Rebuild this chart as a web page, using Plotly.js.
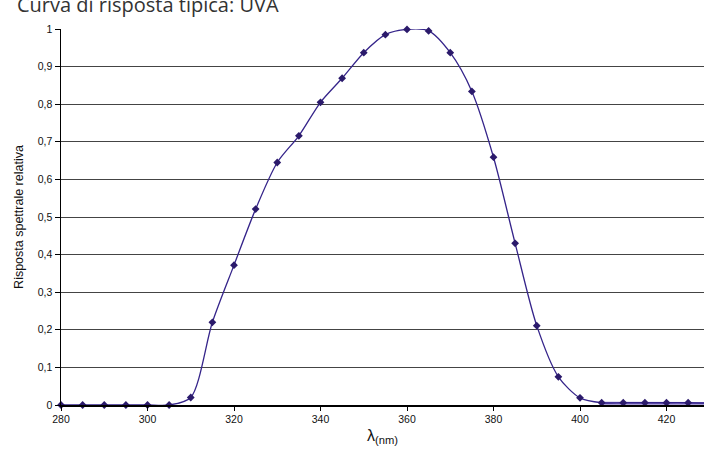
<!DOCTYPE html>
<html>
<head>
<meta charset="utf-8">
<script src="https://cdn.plot.ly/plotly-3.0.1.min.js"></script>
<style>html,body{margin:0;padding:0;background:#fff;}#chart{width:704px;height:449px;}</style>
</head>
<body>
<div id="chart"></div>
<script>
const wavelengths = [280,285,290,295,300,305,310,315,320,325,330,335,340,345,350,355,360,365,370,375,380,385,390,395,400,405,410,415,420,425,430];
const response    = [0,0,0,0,0,0,0.02,0.22,0.372,0.521,0.645,0.716,0.805,0.869,0.937,0.985,0.999,0.995,0.937,0.834,0.659,0.43,0.211,0.075,0.019,0.006,0.006,0.006,0.006,0.006,0.005];
const yTickVals = [0,0.1,0.2,0.3,0.4,0.5,0.6,0.7,0.8,0.9,1];
const xTickVals = [280,300,320,340,360,380,400,420];
const titleText = 'Curva di risposta tipica: UVA';
const yTitle = 'Risposta spettrale relativa';
const xTitle = 'λ<sub>(nm)</sub>';

const tailStart = wavelengths.indexOf(405);
const tailX = wavelengths.slice(tailStart);
const tailY = response.slice(tailStart);

const traces = [
  {
    x: tailX, y: tailY, type: 'scatter', mode: 'lines',
    fill: 'tozeroy', fillcolor: 'rgba(110,90,185,0.6)',
    line: {color: 'rgba(110,90,185,0.8)', width: 2},
    hoverinfo: 'skip', cliponaxis: true
  },
  {
    x: wavelengths, y: response, type: 'scatter', mode: 'lines+markers',
    line: {color: '#35248a', width: 1.3, shape: 'spline', smoothing: 0.8},
    marker: {symbol: 'diamond', size: 6, color: '#2b1a6b'},
    cliponaxis: false
  }
];

const layout = {
  width: 704, height: 449,
  margin: {l: 61, r: 0, t: 29, b: 44, pad: 0},
  paper_bgcolor: '#fff', plot_bgcolor: '#fff',
  showlegend: false,
  separators: ',.',
  font: {family: 'Liberation Sans, Arial, sans-serif', size: 10, color: '#111'},
  title: {
    text: titleText,
    x: 17/704, xanchor: 'left', xref: 'container',
    y: 1 - 5/449, yanchor: 'middle', yref: 'container',
    font: {family: 'Open Sans, sans-serif', size: 20, color: '#333'}
  },
  xaxis: {
    range: [280, 280 + 643/4.325],
    tickvals: xTickVals,
    ticks: 'outside', ticklen: 4, tickcolor: '#000', tickwidth: 1,
    showgrid: false, zeroline: false,
    showline: true, linecolor: '#000', linewidth: 1.5,
    tickfont: {size: 10.5},
    title: {text: xTitle, font: {size: 16, family: 'Liberation Sans, Arial, sans-serif', color: '#111'}, standoff: 5}
  },
  yaxis: {
    range: [0, 1],
    tickvals: yTickVals,
    ticks: 'outside', ticklen: 5, tickcolor: '#000', tickwidth: 1,
    showgrid: true, gridcolor: '#444', gridwidth: 1,
    zeroline: false,
    showline: true, linecolor: '#000', linewidth: 1.5,
    tickfont: {size: 10.5},
    title: {text: yTitle, font: {size: 12.5, family: 'Liberation Sans, Arial, sans-serif', color: '#111'}, standoff: 11}
  }
};

Plotly.newPlot('chart', traces, layout, {displayModeBar: false, staticPlot: true});
</script>
</body>
</html>
